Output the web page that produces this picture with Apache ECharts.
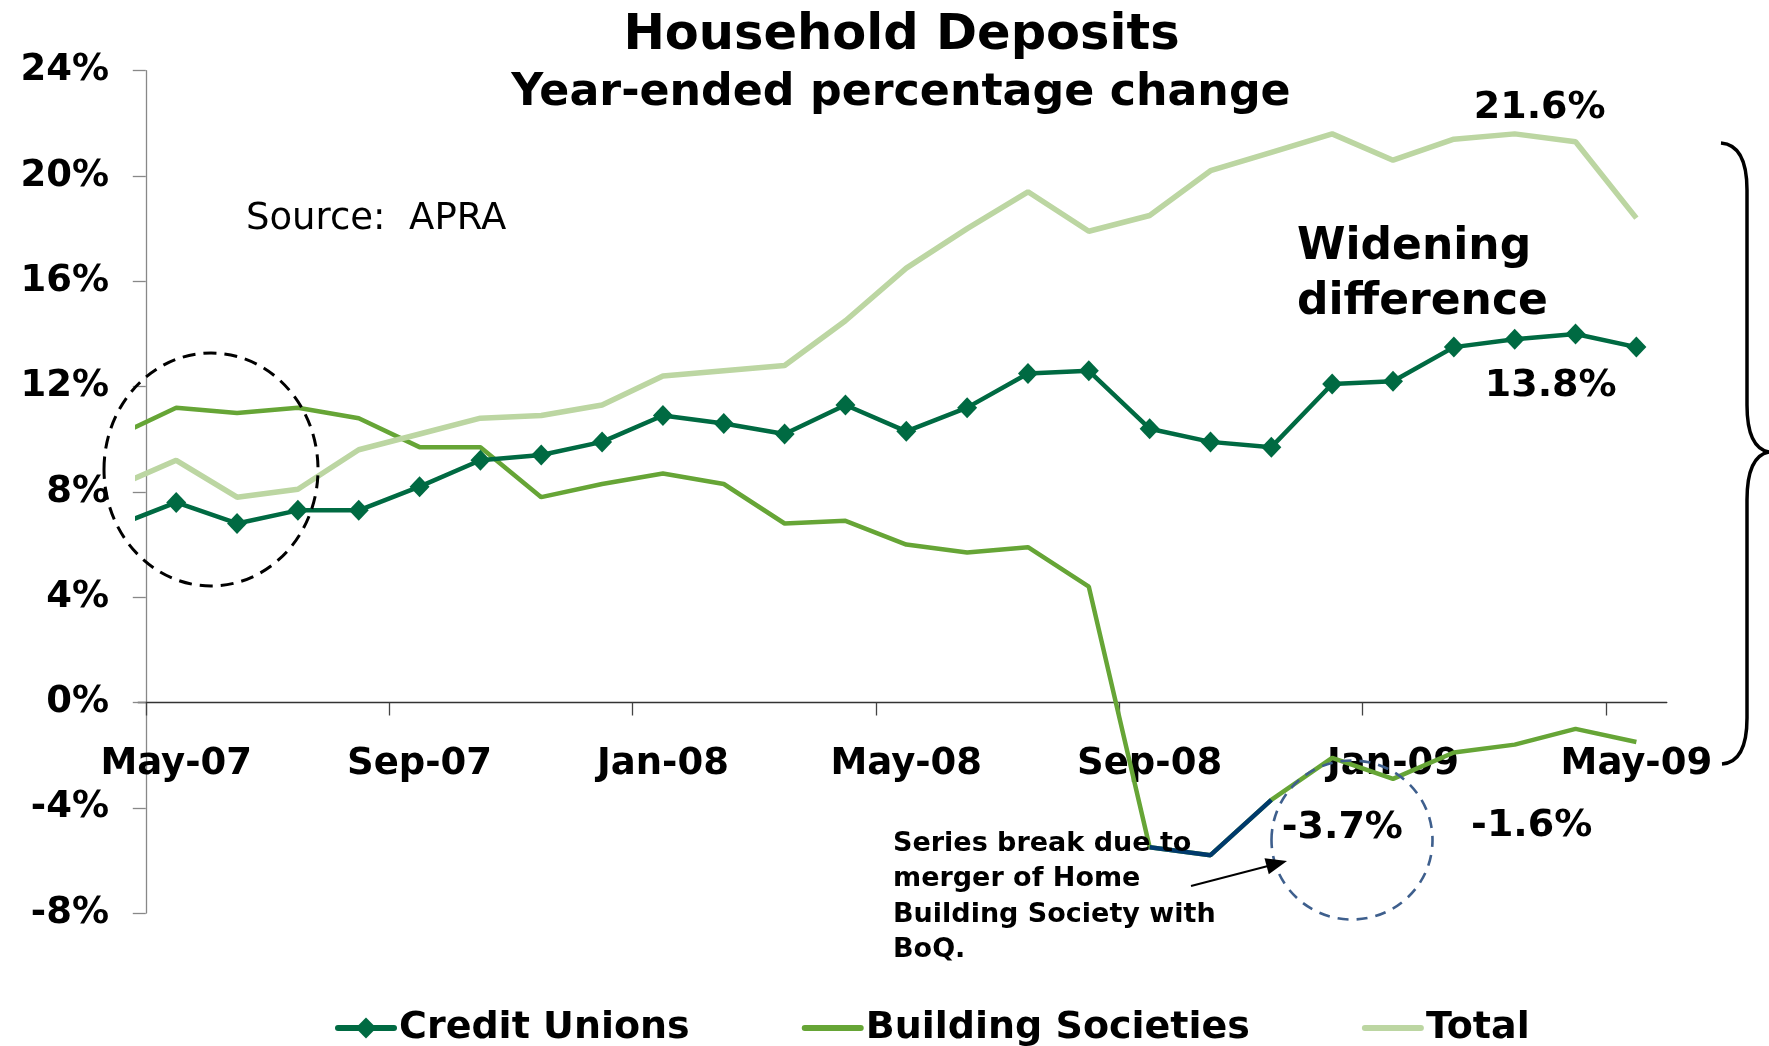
<!DOCTYPE html>
<html>
<head>
<meta charset="utf-8">
<title>Household Deposits</title>
<script src="https://cdn.jsdelivr.net/npm/echarts@6/dist/echarts.min.js"></script>
<style>
  html, body { margin: 0; padding: 0; background: #ffffff; }
  #chart { width: 1769px; height: 1046px; }
</style>
</head>
<body>
<div id="chart"></div>
<script>
// Monthly observations, year-ended percentage change (Apr-07 to May-09)
const months = ['Apr-07', 'May-07', 'Jun-07', 'Jul-07', 'Aug-07', 'Sep-07', 'Oct-07', 'Nov-07', 'Dec-07',
  'Jan-08', 'Feb-08', 'Mar-08', 'Apr-08', 'May-08', 'Jun-08', 'Jul-08', 'Aug-08', 'Sep-08', 'Oct-08',
  'Nov-08', 'Dec-08', 'Jan-09', 'Feb-09', 'Mar-09', 'Apr-09', 'May-09'];

const creditUnions = [6.7, 7.6, 6.8, 7.3, 7.3, 8.2, 9.2, 9.4, 9.9, 10.9, 10.6, 10.2, 11.3, 10.3, 11.2,
  12.5, 12.6, 10.4, 9.9, 9.7, 12.1, 12.2, 13.5, 13.8, 14.0, 13.5];

const buildingSocieties = [10.1, 11.2, 11.0, 11.2, 10.8, 9.7, 9.7, 7.8, 8.3, 8.7, 8.3, 6.8, 6.9, 6.0, 5.7,
  5.9, 4.4, -5.5, -5.8, -3.7, -2.1, -2.9, -1.9, -1.6, -1.0, -1.5];

const total = [8.2, 9.2, 7.8, 8.1, 9.6, 10.2, 10.8, 10.9, 11.3, 12.4, 12.6, 12.8, 14.5, 16.5, 18.0,
  19.4, 17.9, 18.5, 20.2, 20.9, 21.6, 20.6, 21.4, 21.6, 21.3, 18.4];

// Months affected by the Home Building Society / BoQ merger
const breakMonths = ['Sep-08', 'Oct-08', 'Nov-08'];

// Month labels shown on the horizontal axis
const tickMonths = ['May-07', 'Sep-07', 'Jan-08', 'May-08', 'Sep-08', 'Jan-09', 'May-09'];

// Value axis ticks (per cent)
const yMin = -8, yMax = 24, yStep = 4;

// Horizontal position: 0 is the left edge of the May-07 month, one unit per month
const monthX = (i) => i - 0.5;
const toPairs = (values) => values.map((v, i) => [monthX(i), v]);
const idx = (m) => months.indexOf(m);

const FONT = 'DejaVu Sans';
const C_CU = '#006a42';
const C_BS = '#66a536';
const C_TOT = '#bcd6a2';
const C_BREAK = '#003a6c';

// Value call-outs attached to individual observations
function callout(values, month, dx, dy) {
  const i = idx(month);
  return {
    coord: [monthX(i), values[i]],
    value: values[i],
    label: { offset: [dx, dy] }
  };
}
const calloutLabel = {
  show: true,
  position: 'inside',
  color: '#000',
  fontFamily: FONT,
  fontWeight: 'bold',
  fontSize: 38,
  formatter: (p) => p.value.toFixed(1) + '%'
};

const chart = echarts.init(document.getElementById('chart'), null, { renderer: 'canvas' });

const braceStyle = { fill: 'none', stroke: '#000', lineWidth: 3.5 };
const legendText = { fontFamily: FONT, fontWeight: 'bold', fontSize: 38, lineHeight: 42, color: '#000' };

const option = {
  animation: false,
  backgroundColor: '#ffffff',
  title: [
    {
      text: 'Household Deposits',
      left: 896.5, top: 3, textAlign: 'center',
      textStyle: { fontFamily: FONT, fontWeight: 'bold', fontSize: 49.5, lineHeight: 56, color: '#000' }
    },
    {
      text: 'Year-ended percentage change',
      left: 896, top: 63, textAlign: 'center',
      textStyle: { fontFamily: FONT, fontWeight: 'bold', fontSize: 44.3, lineHeight: 50, color: '#000' }
    }
  ],
  grid: {
    left: 138, right: 102.2, top: 70.7, bottom: 132.9,
    containLabel: false, outerBoundsMode: 'none'
  },
  legend: {
    data: [
      { name: 'Credit Unions' },
      { name: 'Building Societies', itemStyle: { opacity: 0 } },
      { name: 'Total', itemStyle: { opacity: 0 } }
    ],
    left: 330, top: 1002,
    itemWidth: 56, itemHeight: 26, itemGap: 112,
    lineStyle: { width: 6, cap: 'round' },
    textStyle: legendText
  },
  xAxis: {
    type: 'value',
    min: -0.128, max: 25,
    splitLine: { show: false },
    axisLine: { show: true, onZero: true, lineStyle: { color: '#333', width: 1.3 } },
    axisTick: {
      show: true, length: 13, inside: false,
      customValues: tickMonths.map((m) => idx(m) - 1),
      lineStyle: { color: '#444', width: 1.3 }
    },
    axisLabel: {
      show: true,
      customValues: tickMonths.map((m) => monthX(idx(m))),
      formatter: (v) => months[Math.round(v + 0.5)],
      margin: -149,
      verticalAlign: 'middle',
      fontFamily: FONT, fontWeight: 'bold', fontSize: 37, color: '#000'
    }
  },
  yAxis: {
    type: 'value',
    min: yMin, max: yMax, interval: yStep,
    splitLine: { show: false },
    axisLine: { show: true, onZero: true, lineStyle: { color: '#888', width: 1.3 } },
    axisTick: { show: true, length: 13, inside: false, lineStyle: { color: '#888', width: 1.3 } },
    axisLabel: {
      margin: 29,
      formatter: '{value}%',
      fontFamily: FONT, fontWeight: 'bold', fontSize: 37, color: '#000'
    }
  },
  series: [
    {
      name: 'Credit Unions',
      type: 'line',
      data: toPairs(creditUnions),
      symbol: 'diamond', symbolSize: [20, 21], showSymbol: true,
      itemStyle: { color: C_CU },
      lineStyle: { color: C_CU, width: 4.5 },
      markPoint: {
        symbol: 'circle', symbolSize: 0, silent: true,
        label: calloutLabel,
        data: [callout(creditUnions, 'Mar-09', 36, 47)]
      },
      z: 3
    },
    {
      name: 'Building Societies',
      type: 'line',
      data: toPairs(buildingSocieties),
      symbol: 'none',
      itemStyle: { color: C_BS },
      lineStyle: { color: C_BS, width: 4.5 },
      markPoint: {
        symbol: 'circle', symbolSize: 0, silent: true,
        label: calloutLabel,
        data: [
          callout(buildingSocieties, 'Mar-09', 17, 82),
          callout(buildingSocieties, 'Nov-08', 71, 28.5)
        ]
      },
      z: 2
    },
    {
      name: 'Series break',
      type: 'line',
      data: breakMonths.map((m) => [monthX(idx(m)), buildingSocieties[idx(m)]]),
      symbol: 'none',
      itemStyle: { color: C_BREAK },
      lineStyle: { color: C_BREAK, width: 4.5 },
      z: 4
    },
    {
      name: 'Total',
      type: 'line',
      data: toPairs(total),
      symbol: 'none',
      itemStyle: { color: C_TOT },
      lineStyle: { color: C_TOT, width: 5.5 },
      markPoint: {
        symbol: 'circle', symbolSize: 0, silent: true,
        label: calloutLabel,
        data: [callout(total, 'Mar-09', 25, -26)]
      },
      z: 2
    }
  ],
  graphic: [
    {
      type: 'text', x: 246, y: 219.5,
      style: { text: 'Source:  APRA', fontFamily: FONT, fontSize: 37, fill: '#000', verticalAlign: 'middle' }
    },
    {
      type: 'text', x: 1297, y: 275.5,
      style: {
        text: 'Widening\ndifference', fontFamily: FONT, fontWeight: 'bold', fontSize: 44,
        lineHeight: 55, fill: '#000', verticalAlign: 'middle'
      }
    },
    {
      type: 'text', x: 893, y: 897,
      style: {
        text: 'Series break due to\nmerger of Home\nBuilding Society with\nBoQ.',
        fontFamily: FONT, fontWeight: 'bold', fontSize: 27, lineHeight: 35.3,
        fill: '#000', verticalAlign: 'middle'
      },
      z: 10
    },
    // dashed ring around the early observations
    {
      type: 'ellipse',
      shape: { cx: 211, cy: 469.5, rx: 107, ry: 116.5 },
      style: { fill: 'none', stroke: '#000', lineWidth: 3, lineDash: [13, 8] },
      z: 10
    },
    // dashed ring around the post-merger trough
    {
      type: 'ellipse',
      shape: { cx: 1352, cy: 840, rx: 80.5, ry: 79.5 },
      style: { fill: 'none', stroke: '#3e5f8d', lineWidth: 2.6, lineDash: [11, 8] },
      z: 10
    },
    // pointer from the note to the ring
    {
      type: 'line',
      shape: { x1: 1191, y1: 886, x2: 1268, y2: 866 },
      style: { stroke: '#000', lineWidth: 2 },
      z: 10
    },
    {
      type: 'polygon',
      shape: { points: [[1287, 861], [1264.5, 858.2], [1268.8, 874.2]] },
      style: { fill: '#000' },
      z: 10
    },
    // brace spanning the gap between the series
    {
      type: 'group',
      z: 10,
      children: [
        { type: 'bezierCurve', shape: { x1: 1721, y1: 143, cpx1: 1747, cpy1: 145, x2: 1747, y2: 190 }, style: braceStyle },
        { type: 'line', shape: { x1: 1747, y1: 190, x2: 1747, y2: 405 }, style: braceStyle },
        { type: 'bezierCurve', shape: { x1: 1747, y1: 405, cpx1: 1747, cpy1: 448, x2: 1769, y2: 452 }, style: braceStyle },
        { type: 'bezierCurve', shape: { x1: 1769, y1: 452, cpx1: 1747, cpy1: 456, x2: 1747, y2: 500 }, style: braceStyle },
        { type: 'line', shape: { x1: 1747, y1: 500, x2: 1747, y2: 718 }, style: braceStyle },
        { type: 'bezierCurve', shape: { x1: 1747, y1: 718, cpx1: 1747, cpy1: 762, x2: 1722, y2: 764 }, style: braceStyle }
      ]
    }
  ]
};

chart.setOption(option);
</script>
</body>
</html>
